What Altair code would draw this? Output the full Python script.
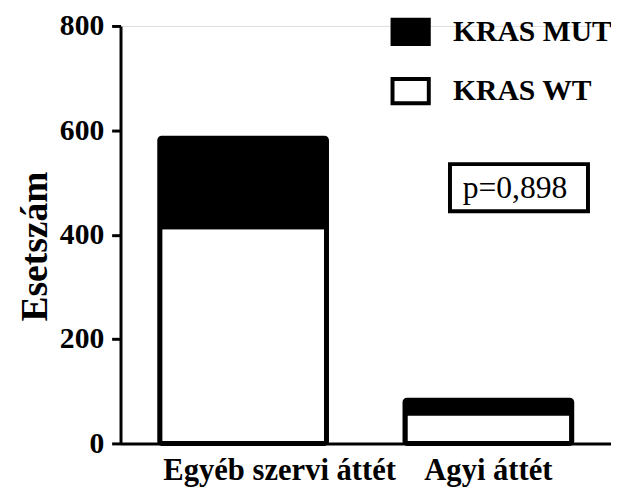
import altair as alt
import pandas as pd

categories = ["Egyéb szervi áttét", "Agyi áttét"]
kras_wt = [415, 58]
kras_mut = [170, 25]
groups = ["KRAS MUT", "KRAS WT"]
group_colors = ["black", "white"]
y_ticks = [0, 200, 400, 600, 800]
p_label = "p=0,898"
p_position = {"category": "Agyi áttét", "y": 490}

rows = []
for c, w, m in zip(categories, kras_wt, kras_mut):
    rows.append({"category": c, "group": "KRAS WT", "value": w, "ord": 0})
    rows.append({"category": c, "group": "KRAS MUT", "value": m, "ord": 1})
df = pd.DataFrame(rows)
ann = pd.DataFrame([{"category": p_position["category"], "y": p_position["y"], "label": p_label}])

FONT = "Liberation Serif"

x_scale = alt.Scale(domain=categories, paddingInner=0.32, paddingOuter=0.16)
y_scale = alt.Scale(domain=[0, 800], nice=False)

bars = alt.Chart(df).mark_bar(stroke="black", strokeWidth=5, cornerRadius=2, strokeJoin="round").encode(
    x=alt.X("category:N", scale=x_scale, sort=categories,
            axis=alt.Axis(title=None, labelAngle=0, ticks=False, labelFont=FONT, labelFontWeight="bold",
                          labelFontSize=31, labelColor="black", labelPadding=13, labelLimit=0,
                          domainColor="black", domainWidth=3,
                          labelOffset={"condition": {"test": "datum.value == 'Egyéb szervi áttét'", "value": 37}, "value": 0})),
    y=alt.Y("value:Q", stack="zero", scale=y_scale,
            axis=alt.Axis(title="Esetszám", values=y_ticks, grid=False, domainColor="black", domainWidth=3,
                          tickColor="black", tickWidth=3, tickSize=9, labelFont=FONT, labelFontWeight="bold",
                          labelFontSize=30, labelColor="black", labelPadding=8,
                          titleFont=FONT, titleFontWeight="bold", titleFontSize=38, titleColor="black",
                          titlePadding=5, titleY=223)),
    fill=alt.Fill("group:N", scale=alt.Scale(domain=groups, range=group_colors),
                  legend=alt.Legend(title=None, orient="none", legendX=279, legendY=-9,
                                    symbolType="M-1.5,-1H1.5V1H-1.5Z", symbolSize=600,
                                    symbolStrokeColor="black", symbolStrokeWidth=4,
                                    labelFont=FONT, labelFontWeight="bold", labelFontSize=30,
                                    labelColor="black", rowPadding=18, labelOffset=28, labelLimit=0,
                                    symbolOpacity=1)),
    order=alt.Order("ord:Q"),
)

box = alt.Chart(ann).mark_point(shape="M-1.52,-0.52H1.52V0.52H-1.52Z", size=8464, filled=False,
                                 stroke="black", strokeWidth=4, opacity=1, xOffset=31).encode(
    x=alt.X("category:N", scale=x_scale, sort=categories),
    y=alt.Y("y:Q", scale=y_scale),
)
txt = alt.Chart(ann).mark_text(font=FONT, fontSize=32, color="black", dx=27).encode(
    x=alt.X("category:N", scale=x_scale, sort=categories),
    y=alt.Y("y:Q", scale=y_scale),
    text="label:N",
)

chart = alt.layer(bars, box, txt).properties(
    width=497, height=423,
    autosize=alt.AutoSizeParams(type="none"),
    padding={"left": 114, "top": 15, "right": 0, "bottom": 44},
).configure_view(stroke=None).configure(background="white")

chart.save("out.html", embed_options={"renderer": "svg", "actions": False})
